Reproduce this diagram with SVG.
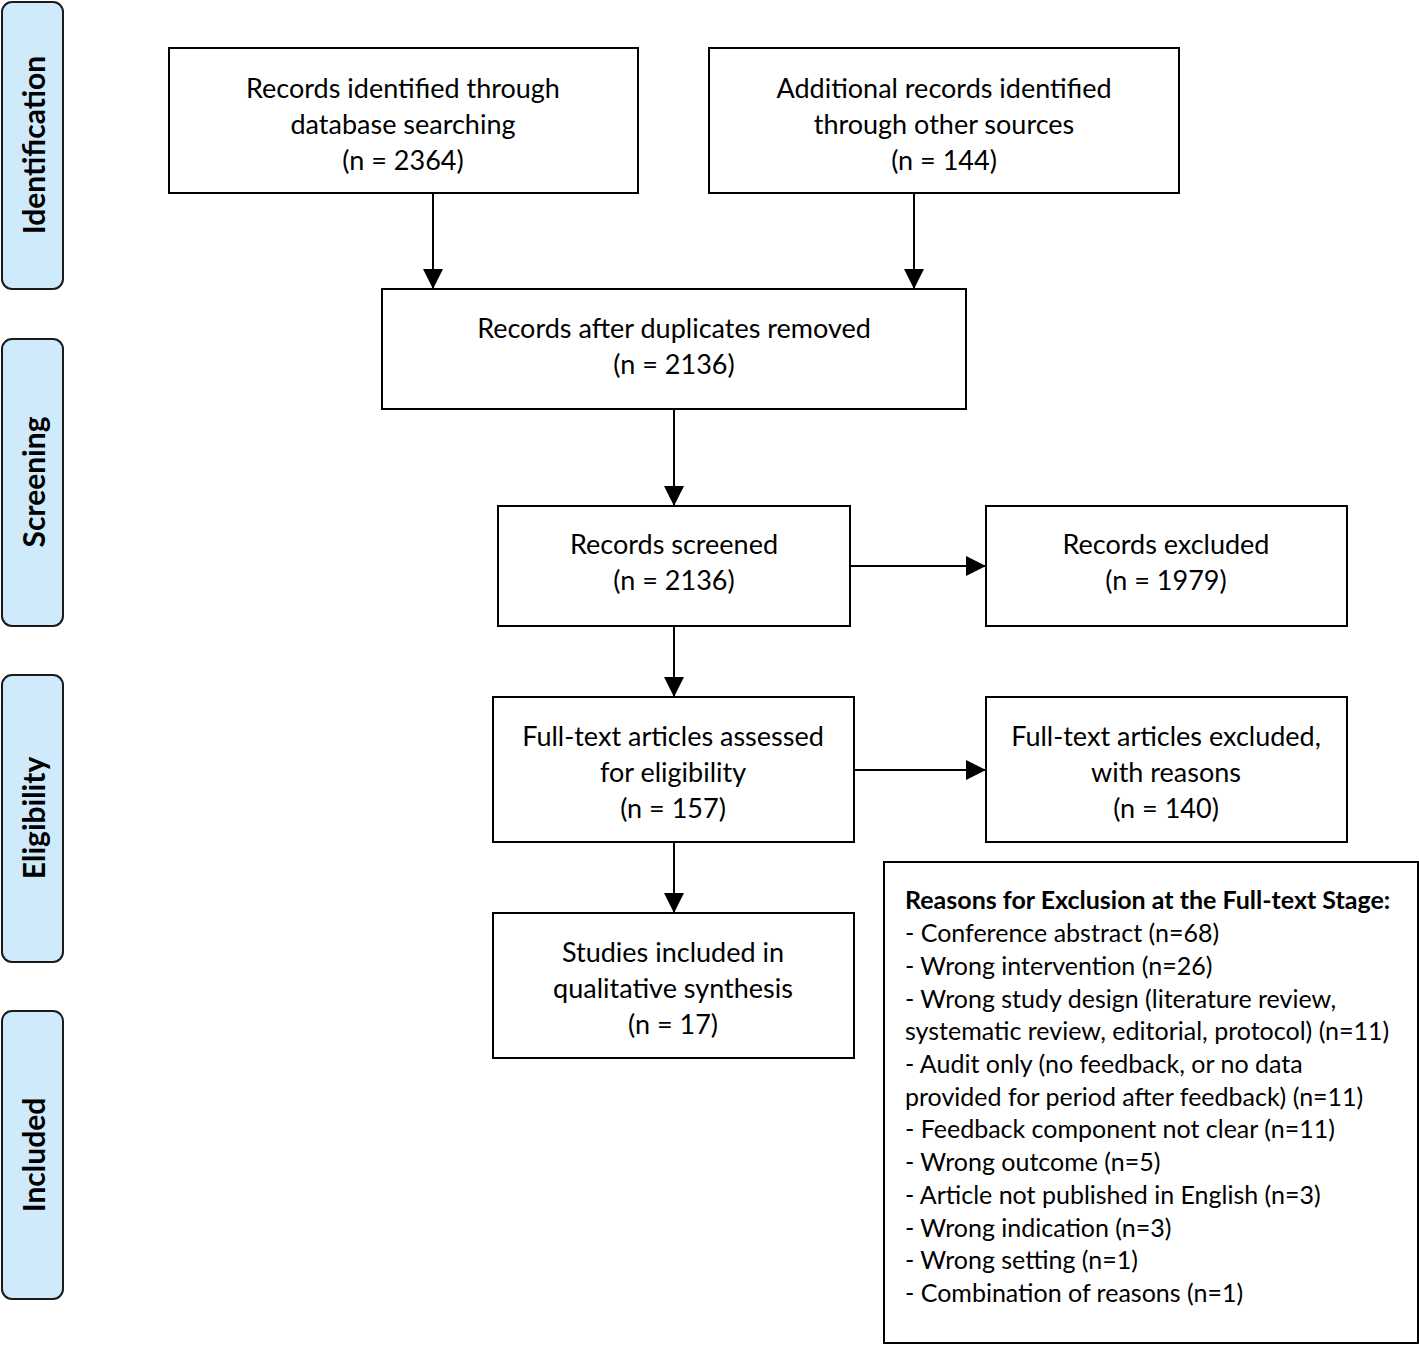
<svg xmlns="http://www.w3.org/2000/svg" width="1419" height="1345" viewBox="0 0 1419 1345">
<style>
.box{fill:#fff;stroke:#000;stroke-width:2}
.side{fill:#cfeafb;stroke:#1a1a1a;stroke-width:2}
.t{font-family:Lato,"Liberation Sans",sans-serif;font-size:27px;fill:#000;text-anchor:middle}
.st{font-family:Lato,"Liberation Sans",sans-serif;font-size:30px;font-weight:bold;fill:#000;text-anchor:middle}
.r{font-family:Lato,"Liberation Sans",sans-serif;font-size:25px;fill:#000}
.rb{font-weight:bold}
.c{stroke:#000;stroke-width:2;fill:none;marker-end:url(#ah)}
</style>
<defs>
<marker id="ah" viewBox="0 0 20 20" refX="20" refY="10" markerWidth="20" markerHeight="20" markerUnits="userSpaceOnUse" orient="auto">
<path d="M0,0 L20,10 L0,20 Z" fill="#000"/>
</marker>
</defs>
<rect width="1419" height="1345" fill="#fff"/>
<g id="side-identification"><rect class="side" x="2" y="2" width="61" height="287" rx="10"/><text class="st" transform="translate(45,145) rotate(-90)">Identification</text></g>
<g id="side-screening"><rect class="side" x="2" y="339" width="61" height="287" rx="10"/><text class="st" transform="translate(45,482) rotate(-90)">Screening</text></g>
<g id="side-eligibility"><rect class="side" x="2" y="675" width="61" height="287" rx="10"/><text class="st" transform="translate(45,818) rotate(-90)">Eligibility</text></g>
<g id="side-included"><rect class="side" x="2" y="1011" width="61" height="288" rx="10"/><text class="st" transform="translate(45,1155) rotate(-90)">Included</text></g>

<g id="connectors">
<line class="c" x1="433" y1="193" x2="433" y2="289"/>
<line class="c" x1="914" y1="193" x2="914" y2="289"/>
<line class="c" x1="674" y1="409" x2="674" y2="506"/>
<line class="c" x1="850" y1="566" x2="986" y2="566"/>
<line class="c" x1="674" y1="626" x2="674" y2="697"/>
<line class="c" x1="854" y1="770" x2="986" y2="770"/>
<line class="c" x1="674" y1="842" x2="674" y2="913"/>
</g>

<g id="n-db"><rect class="box" x="169" y="48" width="469" height="145"/>
<text class="t" x="403" y="98">Records identified through</text>
<text class="t" x="403" y="134">database searching</text>
<text class="t" x="403" y="170">(n = 2364)</text></g>
<g id="n-other"><rect class="box" x="709" y="48" width="470" height="145"/>
<text class="t" x="944" y="98">Additional records identified</text>
<text class="t" x="944" y="134">through other sources</text>
<text class="t" x="944" y="170">(n = 144)</text></g>
<g id="n-dup"><rect class="box" x="382" y="289" width="584" height="120"/>
<text class="t" x="674" y="338">Records after duplicates removed</text>
<text class="t" x="674" y="374">(n = 2136)</text></g>
<g id="n-screened"><rect class="box" x="498" y="506" width="352" height="120"/>
<text class="t" x="674" y="554">Records screened</text>
<text class="t" x="674" y="590">(n = 2136)</text></g>
<g id="n-excluded"><rect class="box" x="986" y="506" width="361" height="120"/>
<text class="t" x="1166" y="554">Records excluded</text>
<text class="t" x="1166" y="590">(n = 1979)</text></g>
<g id="n-fulltext"><rect class="box" x="493" y="697" width="361" height="145"/>
<text class="t" x="673" y="746">Full-text articles assessed</text>
<text class="t" x="673" y="782">for eligibility</text>
<text class="t" x="673" y="818">(n = 157)</text></g>
<g id="n-ftexcluded"><rect class="box" x="986" y="697" width="361" height="145"/>
<text class="t" x="1166" y="746">Full-text articles excluded,</text>
<text class="t" x="1166" y="782">with reasons</text>
<text class="t" x="1166" y="818">(n = 140)</text></g>
<g id="n-included"><rect class="box" x="493" y="913" width="361" height="145"/>
<text class="t" x="673" y="962">Studies included in</text>
<text class="t" x="673" y="998">qualitative synthesis</text>
<text class="t" x="673" y="1034">(n = 17)</text></g>
<g id="n-reasons"><rect class="box" x="884" y="862" width="534" height="481"/>
<text class="r rb" x="905" y="909">Reasons for Exclusion at the Full-text Stage:</text>
<text class="r" x="905" y="942">- Conference abstract (n=68)</text>
<text class="r" x="905" y="975">- Wrong intervention (n=26)</text>
<text class="r" x="905" y="1008">- Wrong study design (literature review,</text>
<text class="r" x="905" y="1040">systematic review, editorial, protocol) (n=11)</text>
<text class="r" x="905" y="1073">- Audit only (no feedback, or no data</text>
<text class="r" x="905" y="1106">provided for period after feedback) (n=11)</text>
<text class="r" x="905" y="1138">- Feedback component not clear (n=11)</text>
<text class="r" x="905" y="1171">- Wrong outcome (n=5)</text>
<text class="r" x="905" y="1204">- Article not published in English (n=3)</text>
<text class="r" x="905" y="1237">- Wrong indication (n=3)</text>
<text class="r" x="905" y="1269">- Wrong setting (n=1)</text>
<text class="r" x="905" y="1302">- Combination of reasons (n=1)</text></g>
</svg>
